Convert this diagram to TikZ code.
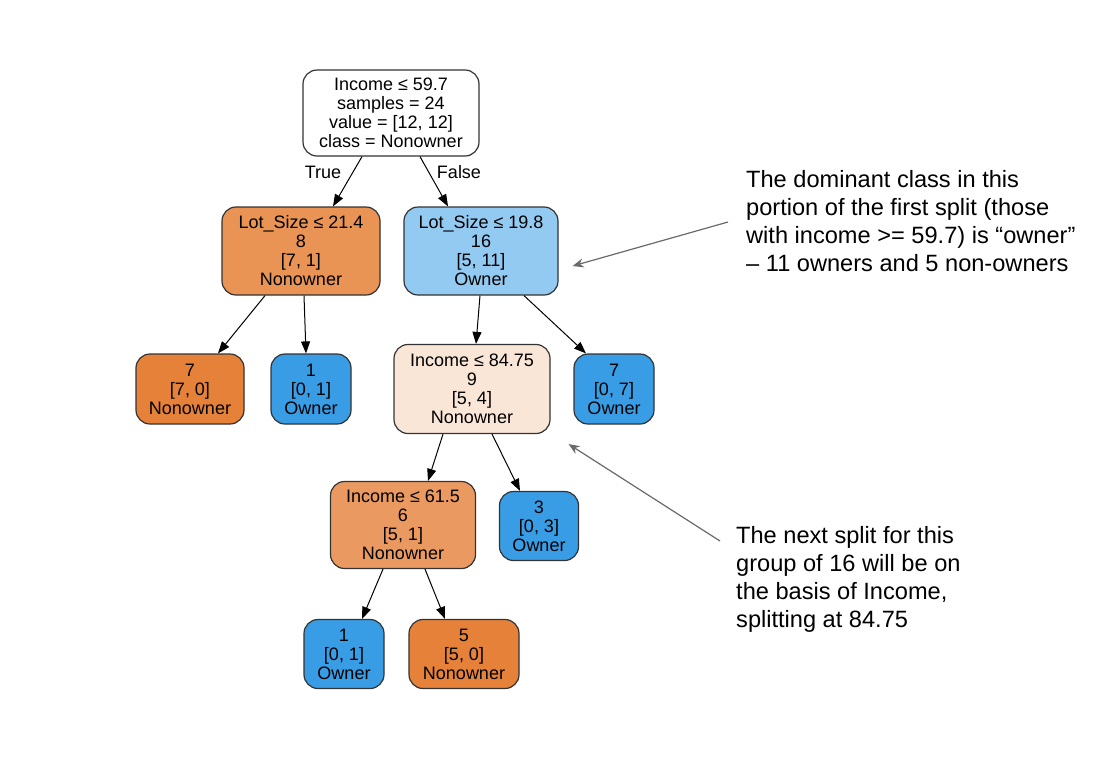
\documentclass[tikz,border=0pt]{standalone}
\usepackage{fontspec}
\setmainfont{Liberation Sans}
\usetikzlibrary{arrows.meta}
\definecolor{orD}{HTML}{E58139}
\definecolor{orA}{HTML}{E99355}
\definecolor{orB}{HTML}{EA9A61}
\definecolor{orC}{HTML}{FAE6D7}
\definecolor{blD}{HTML}{399DE5}
\definecolor{blA}{HTML}{93CAF1}
\definecolor{bd}{HTML}{333333}
\definecolor{notegray}{HTML}{6A6A6A}
\newcommand{\treefont}{\fontsize{18}{19}\selectfont}
\newcommand{\notefont}{\fontsize{23.6}{28}\selectfont}
\begin{document}
\begin{tikzpicture}[x=1pt,y=-1pt,
  treebox/.style={draw=bd, line width=1.2pt, rounded corners=14pt, inner sep=0pt, align=center, font=\treefont},
  edge/.style={draw=black, line width=1pt, -{Triangle[length=12pt,width=9pt]}},
  notearrow/.style={draw=notegray, line width=1.2pt, -{Stealth[length=11pt,width=9pt]}},
  notetext/.style={align=left, anchor=north west, inner sep=0pt, font=\notefont, text=black},
  edgelabel/.style={font=\treefont, inner sep=0pt}]
\useasboundingbox (0,0) rectangle (1101,756);
\fill[white] (0,0) rectangle (1101,756);

\node[treebox, fill=white, minimum width=176pt, minimum height=86pt] (root) at (391,113)
  {Income ≤ 59.7\\samples = 24\\value = [12, 12]\\class = Nonowner};
\node[treebox, fill=orA, minimum width=158pt, minimum height=88pt] (lotA) at (301,251)
  {Lot\_Size ≤ 21.4\\8\\{}[7, 1]\\Nonowner};
\node[treebox, fill=blA, minimum width=154pt, minimum height=88pt] (lotB) at (481,251)
  {Lot\_Size ≤ 19.8\\16\\{}[5, 11]\\Owner};
\node[treebox, fill=orD, minimum width=108pt, minimum height=70pt] (leafA) at (190,389)
  {7\\{}[7, 0]\\Nonowner};
\node[treebox, fill=blD, minimum width=80pt, minimum height=70pt] (leafB) at (311,389)
  {1\\{}[0, 1]\\Owner};
\node[treebox, fill=orC, minimum width=156pt, minimum height=89pt] (incA) at (472,389)
  {Income ≤ 84.75\\9\\{}[5, 4]\\Nonowner};
\node[treebox, fill=blD, minimum width=80pt, minimum height=70pt] (leafC) at (614,389)
  {7\\{}[0, 7]\\Owner};
\node[treebox, fill=orB, minimum width=145pt, minimum height=87pt] (incB) at (403,525)
  {Income ≤ 61.5\\6\\{}[5, 1]\\Nonowner};
\node[treebox, fill=blD, minimum width=79pt, minimum height=69pt] (leafD) at (539,526)
  {3\\{}[0, 3]\\Owner};
\node[treebox, fill=blD, minimum width=80pt, minimum height=69pt] (leafE) at (344,654)
  {1\\{}[0, 1]\\Owner};
\node[treebox, fill=orD, minimum width=110pt, minimum height=69pt] (leafF) at (464,654)
  {5\\{}[5, 0]\\Nonowner};

\draw[edge] ([xshift=-29pt]root.south) -- ([xshift=32pt]lotA.north);
\draw[edge] ([xshift=29pt]root.south) -- ([xshift=-33pt]lotB.north);
\node[edgelabel] (lt) at (323,172) {True};
\node[edgelabel] (lf) at (459,172) {False};

\draw[edge] ([xshift=-36pt]lotA.south) -- ([xshift=28pt]leafA.north);
\draw[edge] ([xshift=3pt]lotA.south) -- ([xshift=-5pt]leafB.north);
\draw[edge] ([xshift=-1pt]lotB.south) -- ([xshift=4pt]incA.north);
\draw[edge] ([xshift=43pt]lotB.south) -- ([xshift=-28pt]leafC.north);
\draw[edge] ([xshift=-29pt]incA.south) -- ([xshift=25pt]incB.north);
\draw[edge] ([xshift=20pt]incA.south) -- ([xshift=-19pt]leafD.north);
\draw[edge] ([xshift=-20pt]incB.south) -- ([xshift=18pt]leafE.north);
\draw[edge] ([xshift=22pt]incB.south) -- ([xshift=-19pt]leafF.north);

\node[notetext] (noteA) at (746,170)
  {The dominant class in this\\portion of the first split (those\\with income >= 59.7) is “owner”\\– 11 owners and 5 non-owners};
\node[notetext] (noteB) at (736,526)
  {The next split for this\\group of 16 will be on\\the basis of Income,\\splitting at 84.75};
\coordinate (na) at (728,222);
\coordinate (nb) at (720,541);
\draw[notearrow] (na) -- ([xshift=14pt,yshift=-15pt]lotB.east);
\draw[notearrow] (nb) -- ([xshift=18pt,yshift=-10pt]incA.south east);
\end{tikzpicture}
\end{document}
